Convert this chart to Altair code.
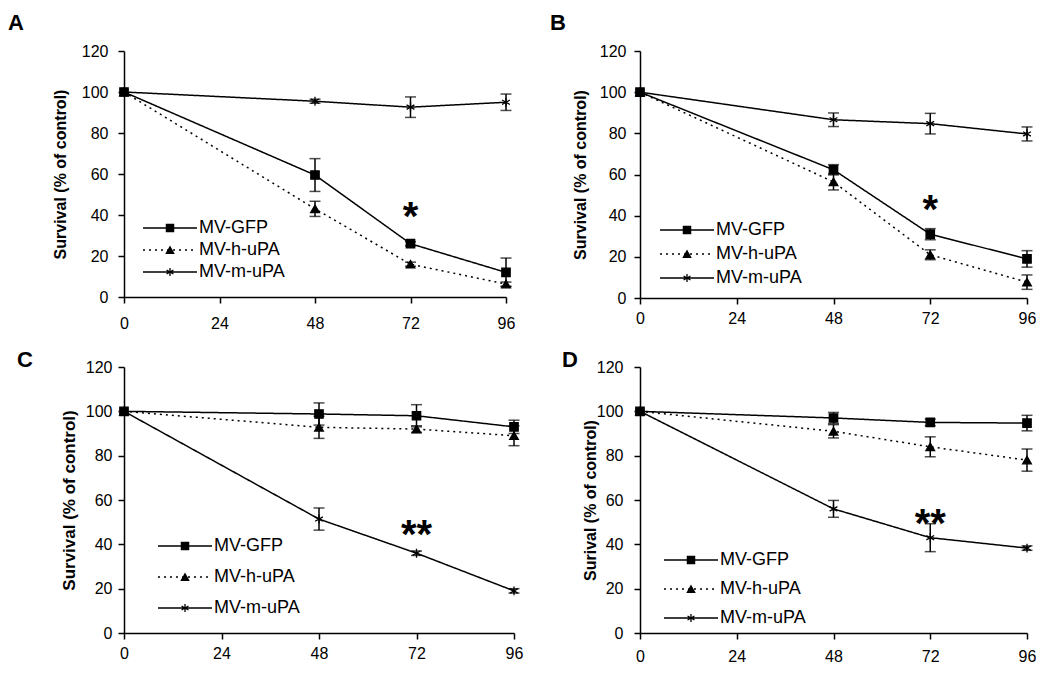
import math
import altair as alt
import pandas as pd

times = [0, 48, 72, 96]
series_names = ["MV-GFP", "MV-h-uPA", "MV-m-uPA"]
x_ticks = [0, 24, 48, 72, 96]
y_ticks = [0, 20, 40, 60, 80, 100, 120]

# Panel A
a_gfp = [100, 59.5, 26, 12]
a_gfp_err = [0, 8, 1, 7]
a_h = [100, 43, 16, 6.3]
a_h_err = [0, 3.7, 1, 1]
a_m = [100, 95.5, 92.6, 95]
a_m_err = [0, 1, 5, 4]
# Panel B
b_gfp = [100, 62.3, 31, 19]
b_gfp_err = [0, 2.5, 2.7, 4]
b_h = [100, 56.4, 21, 7.7]
b_h_err = [0, 3.9, 2.4, 3.5]
b_m = [100, 86.6, 84.7, 79.7]
b_m_err = [0, 3.3, 5, 3.4]
# Panel C
c_gfp = [100, 98.8, 98, 93]
c_gfp_err = [0, 5, 5, 3]
c_h = [100, 92.8, 92, 89]
c_h_err = [0, 5, 1.5, 4.5]
c_m = [100, 51.4, 36, 19]
c_m_err = [0, 5, 1, 1]
# Panel D
d_gfp = [100, 97, 95, 94.7]
d_gfp_err = [0, 2.5, 1.5, 3.5]
d_h = [100, 91, 84, 78]
d_h_err = [0, 3, 4.5, 5]
d_m = [100, 56, 43, 38.3]
d_m_err = [0, 3.8, 6.3, 1]

star_labels = ["*", "*", "**", "**"]
star_values = [43, 46.6, 48, 52.8]
star_time = 72


# ---- symbol geometry (legend symbols drawn as filled paths) ----
def rect(x0, x1, y0, y1):
    return f"M{x0:.3f},{y0:.3f}H{x1:.3f}V{y1:.3f}H{x0:.3f}Z"


def bar(angle_deg, half_len, half_w):
    a = math.radians(angle_deg)
    c, s = math.cos(a), math.sin(a)
    pts = [(-half_len, -half_w), (half_len, -half_w), (half_len, half_w), (-half_len, half_w)]
    rp = [(x * c - y * s, x * s + y * c) for x, y in pts]
    return "M" + "L".join(f"{x:.3f},{y:.3f}" for x, y in rp) + "Z"


LINE_HALF = 5.4
SOLID = rect(-LINE_HALF, LINE_HALF, -0.15, 0.15)
DOTTED = "".join(rect(x0, x0 + 0.4, -0.15, 0.15)
                 for x0 in [-LINE_HALF + i * 1.2 for i in range(10)] if x0 + 0.4 <= LINE_HALF)
SQ = rect(-0.85, 0.85, -0.85, 0.85)
TRI = "M0,-0.9L0.95,0.8L-0.95,0.8Z"
AST_LG = bar(90, 0.8, 0.13) + bar(30, 0.8, 0.13) + bar(150, 0.8, 0.13)
LG_PATHS = [SOLID + SQ, DOTTED + TRI, SOLID + AST_LG]

ASTER = "M0,-1V1M-0.87,-0.5L0.87,0.5M-0.87,0.5L0.87,-0.5"
DASHES = [[1, 0], [2, 4], [1, 0]]


def make_panel(letter, vals, errs, star_text, star_y, ytitle, w, h, p):
    rows = []
    for s, v, e in zip(series_names, vals, errs):
        for t, vv, ee in zip(times, v, e):
            rows.append({"series": s, "t": t, "v": vv, "lo": vv - ee, "hi": vv + ee, "e": ee})
    df = pd.DataFrame(rows)
    xs = alt.Scale(domain=[0, 96], nice=False, zero=False)
    ys = alt.Scale(domain=[0, 120], nice=False)
    xax = alt.Axis(values=x_ticks, title=None, labelPadding=p["xlp"], labelFlush=False, tickSize=6)
    yax = alt.Axis(values=y_ticks, title=ytitle, labelPadding=p["ylp"], tickSize=6, titleX=p["tx"],
                   titleBaseline="middle", titleFontSize=p["tfs"])

    def X():
        return alt.X("t:Q", scale=xs, axis=xax)

    def Y(f):
        return alt.Y(f + ":Q", scale=ys, axis=yax)

    line = alt.Chart(df).mark_line(color="black", strokeWidth=1.5).encode(
        x=X(), y=Y("v"),
        strokeDash=alt.StrokeDash("series:N", scale=alt.Scale(domain=series_names, range=DASHES), legend=None),
        detail="series:N",
    )
    err_df = alt.Chart(df).transform_filter("datum.e > 0")
    rule = err_df.mark_rule(color="black", strokeWidth=1.5).encode(x=X(), y=Y("lo"), y2="hi:Q")
    cap_lo = err_df.mark_tick(color="black", orient="horizontal", size=11, thickness=1.5).encode(
        x=X(), y=Y("lo"))
    cap_hi = err_df.mark_tick(color="black", orient="horizontal", size=11, thickness=1.5).encode(
        x=X(), y=Y("hi"))
    pts = alt.Chart(df).mark_point(filled=True, fill="black", stroke="black", strokeWidth=1.3, opacity=1).encode(
        x=X(), y=Y("v"),
        shape=alt.Shape("series:N", scale=alt.Scale(domain=series_names, range=["square", "triangle-up", ASTER]),
                        legend=None),
        size=alt.Size("series:N", scale=alt.Scale(domain=series_names, range=[70, 80, 110]), legend=None),
    )
    leg = alt.Chart(df).transform_filter("false").mark_point(
        filled=True, fill="black", strokeWidth=0, opacity=1
    ).encode(
        shape=alt.Shape("series:N", scale=alt.Scale(domain=series_names, range=LG_PATHS),
                        legend=alt.Legend(title=None, orient="none", legendX=p["lx"], legendY=p["ly"],
                                          rowPadding=p["rp"], symbolSize=100, labelOffset=20,
                                          labelFontSize=18, labelFont="Liberation Sans", labelColor="black",
                                          symbolFillColor="black", symbolStrokeWidth=0,
                                          symbolOpacity=1, padding=0, labelLimit=300)),
    )
    star_df = pd.DataFrame({"t": [star_time], "v": [star_y], "label": [star_text]})
    star = alt.Chart(star_df).mark_text(font="Liberation Sans", fontWeight="bold", fontSize=40,
                                        baseline="alphabetic", dy=21, color="black").encode(
        x=X(), y=Y("v"), text="label:N",
    )
    return alt.layer(line, rule, cap_lo, cap_hi, pts, star, leg).resolve_scale(
        shape="independent"
    ).properties(
        width=w, height=h,
        title=alt.TitleParams(letter, anchor="start", frame="group", dx=p["ldx"], dy=p["ldy"],
                              fontSize=22, fontWeight="bold", font="Liberation Sans", color="black"),
    )


pA = make_panel("A", [a_gfp, a_h, a_m], [a_gfp_err, a_h_err, a_m_err], star_labels[0], star_values[0],
                "Survival (% of control)", 382, 246,
                dict(xlp=12, ylp=10, tx=-64, tfs=16, lx=37, ly=168, rp=4, ldx=-116, ldy=-4))
pB = make_panel("B", [b_gfp, b_h, b_m], [b_gfp_err, b_h_err, b_m_err], star_labels[1], star_values[1],
                "Survival (% of control)", 387, 247,
                dict(xlp=6, ylp=8, tx=-60, tfs=16, lx=38, ly=170, rp=6, ldx=-90, ldy=-4))
pC = make_panel("C", [c_gfp, c_h, c_m], [c_gfp_err, c_h_err, c_m_err], star_labels[2], star_values[2],
                "Survival (% of control)", 390, 266,
                dict(xlp=6, ylp=6, tx=-55, tfs=17, lx=52, ly=170, rp=13, ldx=-107, ldy=17))
pD = make_panel("D", [d_gfp, d_h, d_m], [d_gfp_err, d_h_err, d_m_err], star_labels[3], star_values[3],
                "Surival (% of control)", 387, 266,
                dict(xlp=9, ylp=11, tx=-50, tfs=16, lx=42, ly=184, rp=11, ldx=-78, ldy=17))

chart = alt.concat(pA, pB, pC, pD, columns=2, spacing={"row": 69, "column": 126}, bounds="flush").properties(
    padding={"left": 0, "top": 4, "right": 0, "bottom": 0},
    background="white",
).configure_view(stroke=None).configure_axis(
    domainColor="black", tickColor="black", labelColor="black", titleColor="black",
    domainWidth=1.5, tickWidth=1.5, labelFont="Liberation Sans", labelFontSize=16,
    titleFont="Liberation Sans", titleFontWeight="bold", grid=False,
)

chart.save("out.html", embed_options={"renderer": "svg", "actions": False})
